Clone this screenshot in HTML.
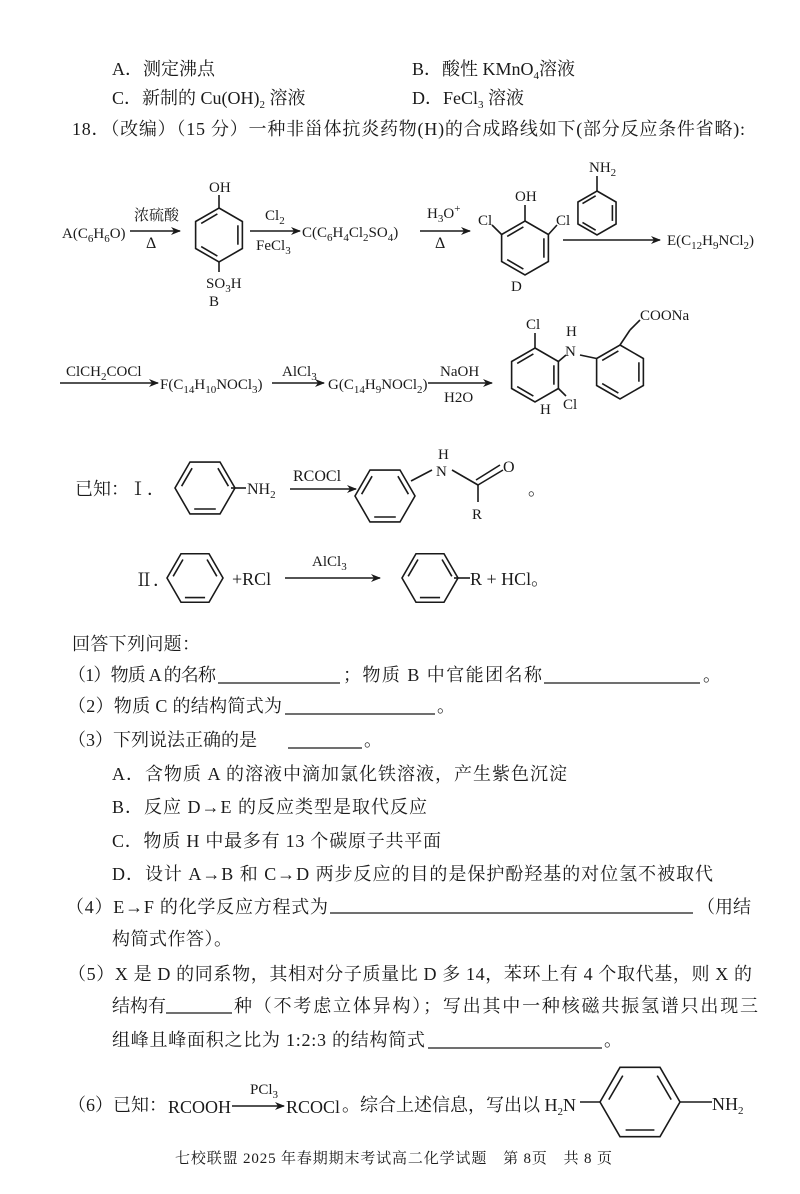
<!DOCTYPE html>
<html><head><meta charset="utf-8"><style>
html,body{margin:0;padding:0;background:#fff;width:800px;height:1194px;overflow:hidden}
svg{display:block}
text{font-family:"Liberation Serif","Noto Serif CJK SC",serif;font-size:18px;fill:#1a1a1a}
.s{font-size:11px}
</style></head><body>
<svg width="800" height="1194" viewBox="0 0 800 1194" xmlns="http://www.w3.org/2000/svg">
<defs>
<g id="bz" fill="none" stroke="#1a1a1a">
<polygon vector-effect="non-scaling-stroke" stroke-width="1.6" points="0,-1 .866,-.5 .866,.5 0,1 -.866,.5 -.866,-.5"/>
<line vector-effect="non-scaling-stroke" stroke-width="1.6" x1=".7" y1="-.36" x2=".7" y2=".36"/>
<line vector-effect="non-scaling-stroke" stroke-width="1.6" x1="-.06" y1=".78" x2="-.66" y2=".43"/>
<line vector-effect="non-scaling-stroke" stroke-width="1.6" x1="-.66" y1="-.43" x2="-.06" y2="-.78"/>
</g>
<marker id="ah" markerWidth="10" markerHeight="8" refX="9" refY="4" orient="auto" markerUnits="userSpaceOnUse"><path d="M0,0 L10,4 L0,8 L3,4z" fill="#1a1a1a"/></marker>
</defs>
<g stroke="#1a1a1a" stroke-width="1.6" fill="none">
<line x1="130" y1="231" x2="180" y2="231" marker-end="url(#ah)"/>
<line x1="250" y1="231" x2="300" y2="231" marker-end="url(#ah)"/>
<line x1="420" y1="231" x2="470" y2="231" marker-end="url(#ah)"/>
<line x1="563" y1="240" x2="660" y2="240" marker-end="url(#ah)"/>
<line x1="60" y1="383" x2="158" y2="383" marker-end="url(#ah)"/>
<line x1="272" y1="383" x2="324" y2="383" marker-end="url(#ah)"/>
<line x1="428" y1="383" x2="492" y2="383" marker-end="url(#ah)"/>
<line x1="290" y1="489" x2="356" y2="489" marker-end="url(#ah)"/>
<line x1="285" y1="578" x2="380" y2="578" marker-end="url(#ah)"/>
<line x1="232" y1="1106" x2="284" y2="1106" marker-end="url(#ah)"/>
<line x1="219" y1="208" x2="219" y2="195"/>
<line x1="219" y1="262" x2="219" y2="272"/>
<line x1="525" y1="221" x2="525" y2="205"/>
<line x1="501.6" y1="234.5" x2="492" y2="225"/>
<line x1="548.4" y1="234.5" x2="557" y2="225"/>
<line x1="597" y1="191" x2="597" y2="176"/>
<line x1="535" y1="348" x2="535" y2="333"/>
<line x1="558.4" y1="361.5" x2="566" y2="355"/>
<line x1="580" y1="355" x2="596.6" y2="358.5"/>
<line x1="558.4" y1="388.5" x2="566" y2="396"/>
<line x1="620" y1="345" x2="630" y2="330"/>
<line x1="630" y1="330" x2="640" y2="320"/>
<line x1="231" y1="488" x2="246" y2="488"/>
<line x1="411" y1="481" x2="432" y2="470"/>
<line x1="452" y1="470" x2="478" y2="485"/>
<line x1="478" y1="485" x2="503" y2="470"/>
<line x1="476" y1="480" x2="500" y2="465"/>
<line x1="478" y1="485" x2="478" y2="502"/>
<line x1="454" y1="578" x2="470" y2="578"/>
<line x1="580" y1="1102" x2="600" y2="1102"/>
<line x1="680" y1="1102" x2="712" y2="1102"/>
<line x1="218" y1="683" x2="340" y2="683" stroke-width="1.2"/>
<line x1="544" y1="683" x2="700" y2="683" stroke-width="1.2"/>
<line x1="285" y1="714" x2="435" y2="714" stroke-width="1.2"/>
<line x1="288" y1="748" x2="362" y2="748" stroke-width="1.2"/>
<line x1="330" y1="913" x2="693" y2="913" stroke-width="1.2"/>
<line x1="166" y1="1013" x2="232" y2="1013" stroke-width="1.2"/>
<line x1="428" y1="1048" x2="602" y2="1048" stroke-width="1.2"/>
</g>
<use href="#bz" transform="translate(219,235) scale(27)"/>
<use href="#bz" transform="translate(525,248) scale(27)"/>
<use href="#bz" transform="translate(597,213) scale(22)"/>
<use href="#bz" transform="translate(535,375) scale(27)"/>
<use href="#bz" transform="translate(620,372) scale(27)"/>
<use href="#bz" transform="translate(205,488) scale(30) rotate(90)"/>
<use href="#bz" transform="translate(385,496) scale(30) rotate(90)"/>
<use href="#bz" transform="translate(195,578) scale(28) rotate(90)"/>
<use href="#bz" transform="translate(430,578) scale(28) rotate(90)"/>
<use href="#bz" transform="translate(640,1102) scale(40) rotate(90)"/>

<text x="112" y="75">A．测定沸点</text>
<text x="412" y="75">B．酸性 KMnO<tspan class="s" dy="4">4</tspan><tspan dy="-4">溶液</tspan></text>
<text x="112" y="104">C．新制的 Cu(OH)<tspan class="s" dy="4">2</tspan><tspan dy="-4"> 溶液</tspan></text>
<text x="412" y="104">D．FeCl<tspan class="s" dy="4">3</tspan><tspan dy="-4"> 溶液</tspan></text>
<text x="72" y="135" textLength="673" lengthAdjust="spacing">18．（改编）（15 分）一种非甾体抗炎药物(H)的合成路线如下(部分反应条件省略):</text>

<text x="62" y="238" style="font-size:15px">A(C<tspan class="s" dy="4">6</tspan><tspan dy="-4">H</tspan><tspan class="s" dy="4">6</tspan><tspan dy="-4">O)</tspan></text>
<text x="134" y="220" style="font-size:15px">浓硫酸</text>
<text x="146" y="248" style="font-size:16px">Δ</text>
<text x="209" y="192" style="font-size:15px">OH</text>
<text x="206" y="288" style="font-size:15px">SO<tspan class="s" dy="4">3</tspan><tspan dy="-4">H</tspan></text>
<text x="209" y="306" style="font-size:15px">B</text>
<text x="265" y="220" style="font-size:15px">Cl<tspan class="s" dy="4">2</tspan></text>
<text x="256" y="250" style="font-size:15px">FeCl<tspan class="s" dy="4">3</tspan></text>
<text x="302" y="237" style="font-size:15px">C(C<tspan class="s" dy="4">6</tspan><tspan dy="-4">H</tspan><tspan class="s" dy="4">4</tspan><tspan dy="-4">Cl</tspan><tspan class="s" dy="4">2</tspan><tspan dy="-4">SO</tspan><tspan class="s" dy="4">4</tspan><tspan dy="-4">)</tspan></text>
<text x="427" y="218" style="font-size:15px">H<tspan class="s" dy="4">3</tspan><tspan dy="-4">O</tspan><tspan class="s" dy="-6">+</tspan></text>
<text x="435" y="248" style="font-size:16px">Δ</text>
<text x="515" y="201" style="font-size:15px">OH</text>
<text x="478" y="225" style="font-size:15px">Cl</text>
<text x="556" y="225" style="font-size:15px">Cl</text>
<text x="511" y="291" style="font-size:15px">D</text>
<text x="589" y="172" style="font-size:15px">NH<tspan class="s" dy="4">2</tspan></text>
<text x="667" y="245" style="font-size:15px">E(C<tspan class="s" dy="4">12</tspan><tspan dy="-4">H</tspan><tspan class="s" dy="4">9</tspan><tspan dy="-4">NCl</tspan><tspan class="s" dy="4">2</tspan><tspan dy="-4">)</tspan></text>

<text x="66" y="376" style="font-size:15px">ClCH<tspan class="s" dy="4">2</tspan><tspan dy="-4">COCl</tspan></text>
<text x="160" y="389" style="font-size:15px">F(C<tspan class="s" dy="4">14</tspan><tspan dy="-4">H</tspan><tspan class="s" dy="4">10</tspan><tspan dy="-4">NOCl</tspan><tspan class="s" dy="4">3</tspan><tspan dy="-4">)</tspan></text>
<text x="282" y="376" style="font-size:15px">AlCl<tspan class="s" dy="4">3</tspan></text>
<text x="328" y="389" style="font-size:15px">G(C<tspan class="s" dy="4">14</tspan><tspan dy="-4">H</tspan><tspan class="s" dy="4">9</tspan><tspan dy="-4">NOCl</tspan><tspan class="s" dy="4">2</tspan><tspan dy="-4">)</tspan></text>
<text x="440" y="376" style="font-size:15px">NaOH</text>
<text x="444" y="402" style="font-size:15px">H2O</text>
<text x="526" y="329" style="font-size:15px">Cl</text>
<text x="566" y="336" style="font-size:15px">H</text>
<text x="565" y="356" style="font-size:15px">N</text>
<text x="640" y="320" style="font-size:15px">COONa</text>
<text x="563" y="409" style="font-size:15px">Cl</text>
<text x="540" y="414" style="font-size:15px">H</text>

<text x="75" y="495">已知：Ⅰ．</text>
<text x="247" y="494" style="font-size:16px">NH<tspan class="s" dy="4">2</tspan></text>
<text x="293" y="481" style="font-size:16px">RCOCl</text>
<text x="438" y="459" style="font-size:15px">H</text>
<text x="436" y="476" style="font-size:15px">N</text>
<text x="503" y="472" style="font-size:16px">O</text>
<text x="472" y="519" style="font-size:15px">R</text>
<text x="528" y="495">。</text>
<text x="135" y="586">Ⅱ．</text>
<text x="232" y="585">+RCl</text>
<text x="312" y="566" style="font-size:15px">AlCl<tspan class="s" dy="4">3</tspan></text>
<text x="470" y="585">R + HCl。</text>

<text x="72" y="650" textLength="128" lengthAdjust="spacing">回答下列问题：</text>
<text x="68" y="681" textLength="148" lengthAdjust="spacing">（1）物质 A 的名称</text>
<text x="343" y="681" textLength="199" lengthAdjust="spacing">；物质 B 中官能团名称</text>
<text x="703" y="681">。</text>
<text x="68" y="712" textLength="214" lengthAdjust="spacing">（2）物质 C 的结构简式为</text>
<text x="437" y="712">。</text>
<text x="68" y="746">（3）下列说法正确的是</text>
<text x="364" y="746">。</text>
<text x="112" y="780" textLength="455" lengthAdjust="spacing">A．含物质 A 的溶液中滴加氯化铁溶液，产生紫色沉淀</text>
<text x="112" y="813" textLength="315" lengthAdjust="spacing">B．反应 D→E 的反应类型是取代反应</text>
<text x="112" y="847" textLength="329" lengthAdjust="spacing">C．物质 H 中最多有 13 个碳原子共平面</text>
<text x="112" y="880" textLength="601" lengthAdjust="spacing">D．设计 A→B 和 C→D 两步反应的目的是保护酚羟基的对位氢不被取代</text>
<text x="66" y="913" textLength="262" lengthAdjust="spacing">（4）E→F 的化学反应方程式为</text>
<text x="697" y="913">（用结</text>
<text x="112" y="945" textLength="120" lengthAdjust="spacing">构简式作答）。</text>
<text x="68" y="980" textLength="684" lengthAdjust="spacing">（5）X 是 D 的同系物，其相对分子质量比 D 多 14，苯环上有 4 个取代基，则 X 的</text>
<text x="112" y="1012">结构有</text>
<text x="234" y="1012" textLength="524" lengthAdjust="spacing">种（不考虑立体异构）；写出其中一种核磁共振氢谱只出现三</text>
<text x="112" y="1046" textLength="313" lengthAdjust="spacing">组峰且峰面积之比为 1:2:3 的结构简式</text>
<text x="604" y="1046">。</text>
<text x="68" y="1111">（6）已知：</text>
<text x="168" y="1113">RCOOH</text>
<text x="250" y="1094" style="font-size:15px">PCl<tspan class="s" dy="4">3</tspan></text>
<text x="286" y="1113">RCOCl</text>
<text x="342" y="1111">。综合上述信息，写出以 H<tspan class="s" dy="4">2</tspan><tspan dy="-4">N</tspan></text>
<text x="712" y="1110">NH<tspan class="s" dy="4">2</tspan></text>
<text x="175" y="1163" style="font-size:15px" textLength="437" lengthAdjust="spacing">七校联盟 2025 年春期期末考试高二化学试题　第 8页　共 8 页</text>
</svg>
</body></html>
